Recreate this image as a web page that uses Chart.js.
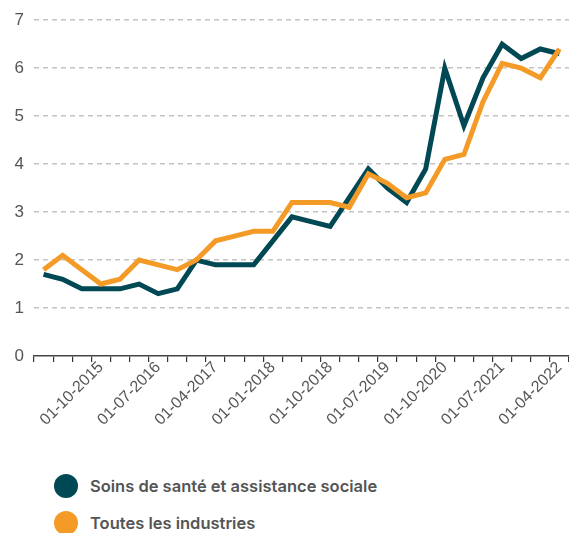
<!DOCTYPE html>
<html>
<head>
<meta charset="utf-8">
<script src="https://cdn.jsdelivr.net/npm/chart.js@4"></script>
<style>
  html, body { margin: 0; padding: 0; background: #fff; }
  body { width: 569px; height: 533px; overflow: hidden; position: relative; }
  .chart-wrap { position: absolute; left: 0; top: 0; width: 569px; height: 445px; }
  .legend { position: absolute; left: 54px; top: 467px; font-family: Inter, "Open Sans", sans-serif; font-weight: 600; font-size: 16.5px; color: #555; }
  .legend-item { display: flex; align-items: center; height: 37px; }
  .legend-dot { width: 24px; height: 24px; border-radius: 50%; margin-right: 12px; }
</style>
</head>
<body>
<div class="chart-wrap"><canvas id="chart"></canvas></div>
<div class="legend" id="legend"></div>
<script>
const labels = [
  '01-01-2015', '01-04-2015', '01-07-2015', '01-10-2015',
  '01-01-2016', '01-04-2016', '01-07-2016', '01-10-2016',
  '01-01-2017', '01-04-2017', '01-07-2017', '01-10-2017',
  '01-01-2018', '01-04-2018', '01-07-2018', '01-10-2018',
  '01-01-2019', '01-04-2019', '01-07-2019', '01-10-2019',
  '01-07-2020', '01-10-2020', '01-01-2021', '01-04-2021',
  '01-07-2021', '01-10-2021', '01-01-2022', '01-04-2022'
];
const santeValues = [1.7, 1.6, 1.4, 1.4, 1.4, 1.5, 1.3, 1.4, 2.0, 1.9, 1.9, 1.9, 2.4, 2.9,
  2.8, 2.7, 3.3, 3.9, 3.5, 3.2, 3.9, 6.0, 4.8, 5.8, 6.5, 6.2, 6.4, 6.3];
const industriesValues = [1.8, 2.1, 1.8, 1.5, 1.6, 2.0, 1.9, 1.8, 2.0, 2.4, 2.5, 2.6, 2.6, 3.2,
  3.2, 3.2, 3.1, 3.8, 3.6, 3.3, 3.4, 4.1, 4.2, 5.3, 6.1, 6.0, 5.8, 6.4];
const seriesNames = ['Soins de santé et assistance sociale', 'Toutes les industries'];
const seriesColors = ['#004853', '#F49A27'];

const tickFont = { family: '"Liberation Sans", Arial, sans-serif', size: 17 };

new Chart(document.getElementById('chart'), {
  type: 'line',
  data: {
    labels: labels,
    datasets: [
      { label: seriesNames[0], data: santeValues, borderColor: seriesColors[0], backgroundColor: seriesColors[0], borderWidth: 5, pointRadius: 0, tension: 0, order: 2 },
      { label: seriesNames[1], data: industriesValues, borderColor: seriesColors[1], backgroundColor: seriesColors[1], borderWidth: 5, pointRadius: 0, tension: 0, order: 1 }
    ]
  },
  options: {
    responsive: true, maintainAspectRatio: false, animation: false,
    layout: { padding: { top: 14, right: 0, left: 0, bottom: 0 } },
    plugins: { legend: { display: false }, tooltip: { enabled: false } },
    scales: {
      x: {
        offset: true,
        grid: { offset: true, drawOnChartArea: false, drawTicks: true, tickLength: 6, color: '#333', lineWidth: 1.2 },
        border: { display: true, color: '#444', width: 1.5 },
        ticks: {
          autoSkip: false, maxRotation: 45, minRotation: 45, color: '#555', font: { ...tickFont, size: 16 }, padding: -4,
          callback: (v, i) => (i % 3 === 0 && i > 0) ? labels[i] : ''
        },
        afterFit: s => { s.height = 89; s.paddingRight = 0; s.paddingLeft = 0; }
      },
      y: {
        min: 0, max: 7,
        ticks: { stepSize: 1, color: '#555', font: tickFont, padding: 10 },
        grid: { color: ctx => ctx.tick.value === 0 ? 'rgba(0,0,0,0)' : '#c4c4c4', lineWidth: 1.5, drawTicks: false },
        border: { display: false, dash: [5, 4] },
        afterFit: s => { s.width = 34; }
      }
    }
  }
});

document.getElementById('legend').innerHTML = seriesNames.map((n, i) =>
  `<div class="legend-item"><span class="legend-dot" style="background:${seriesColors[i]}"></span>${n}</div>`
).join('');
</script>
</body>
</html>
